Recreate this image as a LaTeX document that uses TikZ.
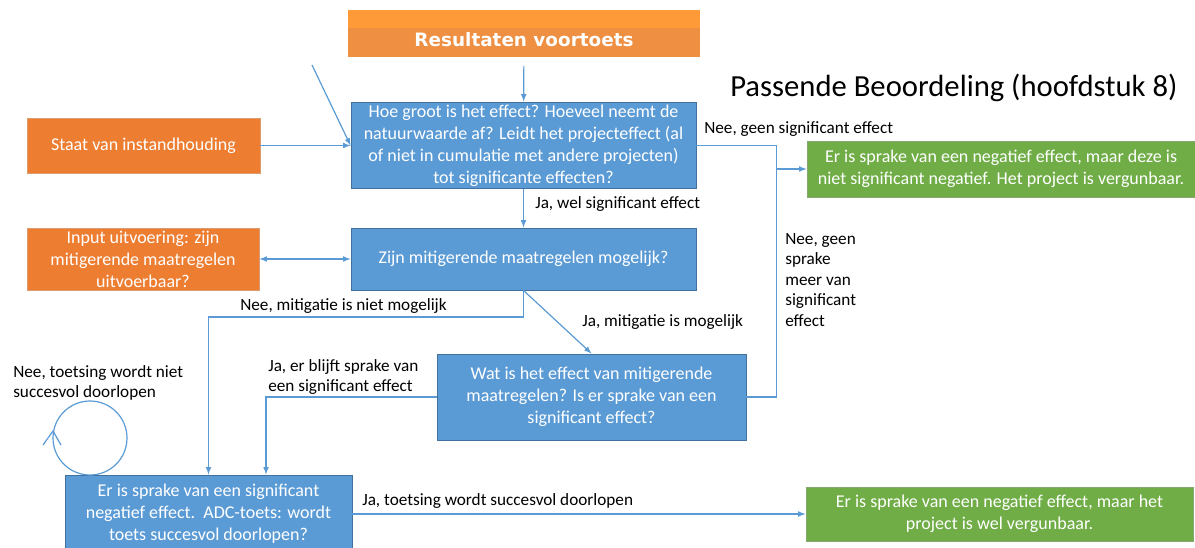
\documentclass[tikz,border=0pt]{standalone}
\usepackage{fontspec}
\setmainfont{Carlito}
\newfontfamily\kopfont{DejaVu Sans}

\definecolor{blauw}{HTML}{5B9BD5}
\definecolor{blauwrand}{HTML}{41719C}
\definecolor{oranje}{HTML}{ED7D31}
\definecolor{oranjerand}{HTML}{C55A11}
\definecolor{groen}{HTML}{70AD47}
\definecolor{groenrand}{HTML}{548235}
\definecolor{lichtoranje}{HTML}{FF9A38}
\definecolor{middenoranje}{HTML}{EE8F42}
\definecolor{pijlkleur}{HTML}{5B9BD5}

\tikzset{
  blok/.style={draw, line width=0.7pt, text=white, align=center, inner sep=2pt,
    font=\fontsize{13.5}{16.5}\selectfont},
  blauwblok/.style={blok, fill=blauw, draw=blauwrand},
  oranjeblok/.style={blok, fill=oranje, draw=oranjerand!60},
  groenblok/.style={blok, fill=groen, draw=groenrand!70},
  voortoetsblok/.style={fill=middenoranje, text=white, minimum width=264pt, minimum height=35.25pt,
    font=\kopfont\fontsize{13.8}{16}\selectfont\bfseries,
    path picture={\fill[lichtoranje] (path picture bounding box.north west)
      rectangle ([yshift=-13.5pt]path picture bounding box.north east);}},
  bijschrift/.style={anchor=west, align=left, inner sep=0pt, font=\fontsize{12.9}{15.4}\selectfont},
  lijn/.style={draw=pijlkleur, line width=0.9pt},
  pijl/.style={lijn, -latex},
}

\begin{document}
\begin{tikzpicture}[x=0.75pt, y=-0.75pt]
  \useasboundingbox (0,0) rectangle (1195,548);

  \node[voortoetsblok] (voortoets) at (524,33.5) {\raisebox{-10pt}[0pt][0pt]{Resultaten voortoets}};
  \node[anchor=west, inner sep=0pt, font=\fontsize{23}{26}\selectfont] (titel) at (730,88)
    {Passende Beoordeling (hoofdstuk 8)};

  \node[blauwblok, minimum width=258.75pt, minimum height=62.25pt] (effect) at (523.5,145.5)
    {Hoe groot is het effect? Hoeveel neemt de\\natuurwaarde af? Leidt het projecteffect (al\\of niet in cumulatie met andere projecten)\\tot significante effecten?};
  \node[oranjeblok, minimum width=174.75pt, minimum height=41.25pt] (staat) at (143.5,145.5)
    {Staat van instandhouding};
  \node[oranjeblok, minimum width=174pt, minimum height=46.5pt] (input) at (143,259)
    {Input uitvoering: zijn\\mitigerende maatregelen\\uitvoerbaar?};
  \node[blauwblok, minimum width=258.75pt, minimum height=46.5pt] (mogelijk) at (523.5,259)
    {Zijn mitigerende maatregelen mogelijk?};
  \node[blauwblok, minimum width=231.75pt, minimum height=64.5pt] (mitigatie) at (591.5,397)
    {Wat is het effect van mitigerende\\maatregelen? Is er sprake van een\\significant effect?};
  \node[blauwblok, minimum width=215.25pt, minimum height=58.5pt] (adc) at (208.5,514)
    {Er is sprake van een significant\\negatief effect.\ \ ADC-toets: wordt\\toets succesvol doorlopen?};
  \node[groenblok, minimum width=291pt, minimum height=42pt] (vergunbaar) at (1001,169)
    {Er is sprake van een negatief effect, maar deze is\\niet significant negatief. Het project is vergunbaar.};
  \node[groenblok, minimum width=290.25pt, minimum height=40.5pt] (welvergunbaar) at (999.5,514)
    {Er is sprake van een negatief effect, maar het\\project is wel vergunbaar.};

  \coordinate (vrij) at (312,65);
  \coordinate (knik) at (776.5,397);
  \coordinate (nietmogelijk) at (208.5,317);
  \coordinate (blijft) at (266,397);
  \coordinate (lustop) at (53,431);

  \draw[pijl, shorten <=6.5pt] (voortoets) -- (effect);
  \draw[pijl] (vrij) -- (effect.west);
  \draw[pijl] (staat) -- (effect.west);
  \draw[lijn, latex-latex] (input) -- (mogelijk);
  \draw[pijl] (effect) -- (mogelijk);
  \draw[lijn] (effect.east) -| (knik) -- (mitigatie.east);
  \draw[pijl] (knik |- vergunbaar.west) -- (vergunbaar.west);
  \draw[pijl] (mogelijk.south) |- (nietmogelijk) -- (adc.north);
  \draw[pijl] (mogelijk.south) -- (mitigatie.north);
  \draw[pijl] (mitigatie.west) -- (blijft) -- (blijft |- adc.north);
  \draw[pijl] (adc.east |- welvergunbaar.west) -- (welvergunbaar.west);

  \node[circle, lijn, minimum size=55.5pt, inner sep=0pt] (lus) at (90,438) {};
  \draw[lijn] (lustop) ++(-10,14) -- (lustop) -- ++(8,14);

  \node[bijschrift] (welsig) at (535,204) {Ja, wel significant effect};
  \node[bijschrift] (geensig) at (704,129) {Nee, geen significant effect};
  \node[bijschrift, anchor=north west] (geenmeer) at (785,233)
    {Nee, geen\\sprake\\meer van\\significant\\effect};
  \node[bijschrift] (nietmog) at (240,306) {Nee, mitigatie is niet mogelijk};
  \node[bijschrift] (welmog) at (582,322) {Ja, mitigatie is mogelijk};
  \node[bijschrift, anchor=north west] (erblijft) at (268,359)
    {Ja, er blijft sprake van\\een significant effect};
  \node[bijschrift, anchor=north west] (nietsucces) at (13,365)
    {Nee, toetsing wordt niet\\succesvol doorlopen};
  \node[bijschrift] (succes) at (362,501) {Ja, toetsing wordt succesvol doorlopen};
\end{tikzpicture}
\end{document}
